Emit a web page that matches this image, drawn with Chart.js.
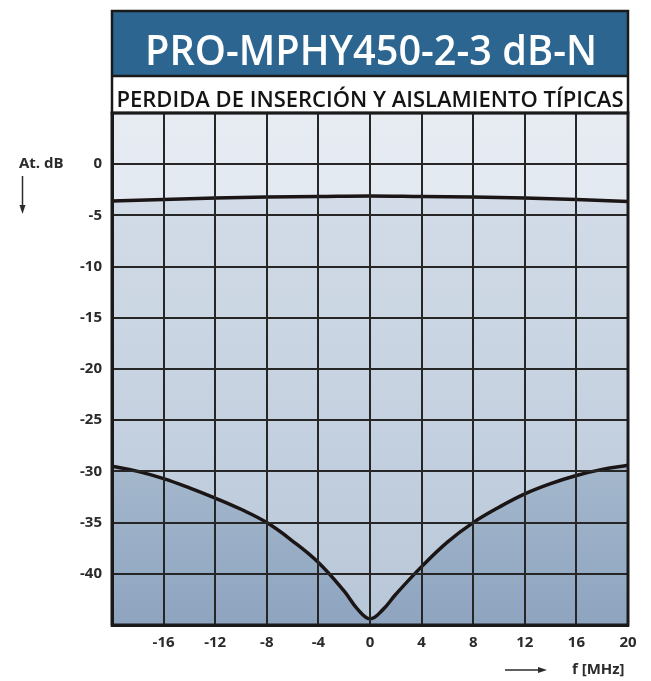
<!DOCTYPE html>
<html>
<head>
<meta charset="utf-8">
<script src="https://cdn.jsdelivr.net/npm/chart.js@4.4.1/dist/chart.umd.min.js"></script>
<style>
  html, body { margin: 0; padding: 0; background: #fff; }
  canvas { display: block; }
</style>
</head>
<body>
<canvas id="chart" width="651" height="681"></canvas>
<script>
// insertion loss (top curve)
const lossFreq = [-20, -16, -12, -8, -4, 0, 4, 8, 12, 16, 20];
const lossDb = [-3.6, -3.45, -3.3, -3.2, -3.15, -3.1, -3.15, -3.2, -3.3, -3.45, -3.65];

// isolation (bottom curve)
const isoFreq = [-20, -18, -16, -14, -12, -10, -8, -6, -4, -2, -1, 0, 1, 2, 4, 6, 8, 10, 12, 14, 16, 18, 20];
const isoDb = [-29.5, -30.0, -30.7, -31.6, -32.6, -33.7, -35.0, -36.8, -38.9, -41.7, -43.4, -44.4, -43.5, -42.0, -39.3, -36.9, -35.0, -33.5, -32.2, -31.2, -30.4, -29.8, -29.4];

const xLabels = [-16, -12, -8, -4, 0, 4, 8, 12, 16, 20];
const yLabels = [0, -5, -10, -15, -20, -25, -30, -35, -40];

const titleText = 'PRO-MPHY450-2-3 dB-N';
const subtitleText = 'PERDIDA DE INSERCIÓN Y AISLAMIENTO TÍPICAS';

function vGrad(chart, stops) {
  const { ctx, chartArea } = chart;
  if (!chartArea) return stops[0][1];
  const g = ctx.createLinearGradient(0, chartArea.top, 0, chartArea.bottom);
  stops.forEach(s => g.addColorStop(s[0], s[1]));
  return g;
}

function arrow(ctx, x1, y1, x2, y2) {
  const a = Math.atan2(y2 - y1, x2 - x1);
  ctx.beginPath();
  ctx.moveTo(x1, y1);
  ctx.lineTo(x2 - 6 * Math.cos(a), y2 - 6 * Math.sin(a));
  ctx.stroke();
  ctx.beginPath();
  ctx.moveTo(x2, y2);
  ctx.lineTo(x2 - 9 * Math.cos(a) + 3 * Math.sin(a), y2 - 9 * Math.sin(a) - 3 * Math.cos(a));
  ctx.lineTo(x2 - 9 * Math.cos(a) - 3 * Math.sin(a), y2 - 9 * Math.sin(a) + 3 * Math.cos(a));
  ctx.closePath();
  ctx.fill();
}

const frame = {
  id: 'frame',
  beforeDraw(chart) {
    const { ctx, chartArea: a } = chart;
    ctx.save();
    ctx.fillStyle = vGrad(chart, [[0, '#e7ecf3'], [1, '#d3dce8']]);
    ctx.fillRect(a.left, a.top, a.right - a.left, a.bottom - a.top);
    ctx.restore();
  },
  afterDraw(chart) {
    const { ctx, chartArea: a } = chart;
    const w = a.right - a.left;
    ctx.save();
    // title boxes
    ctx.fillStyle = '#2c6690';
    ctx.fillRect(a.left, 11, w, 65);
    ctx.fillStyle = '#ffffff';
    ctx.fillRect(a.left, 76, w, a.top - 76);
    ctx.strokeStyle = '#1a1a1a';
    ctx.lineWidth = 2.5;
    ctx.strokeRect(a.left, 11, w, a.top - 11);
    ctx.beginPath();
    ctx.moveTo(a.left, 76);
    ctx.lineTo(a.right, 76);
    ctx.stroke();
    ctx.lineWidth = 3;
    ctx.strokeRect(a.left, a.top, w, a.bottom - a.top);

    ctx.textAlign = 'center';
    ctx.textBaseline = 'alphabetic';
    ctx.fillStyle = '#ffffff';
    ctx.font = '600 42px "Open Sans"';
    ctx.fillText(titleText, (a.left + a.right) / 2 + 1, 65, 452);
    ctx.fillStyle = '#141414';
    ctx.font = '600 22px "Open Sans"';
    ctx.fillText(subtitleText, (a.left + a.right) / 2, 107, 508);

    // axis captions
    ctx.fillStyle = '#2b2b2b';
    ctx.strokeStyle = '#2b2b2b';
    ctx.lineWidth = 1.5;
    ctx.font = 'bold 15px "Open Sans"';
    ctx.textAlign = 'left';
    ctx.fillText('At. dB', 19, 168);
    arrow(ctx, 22.5, 176, 22.5, 214);
    ctx.fillText('f [MHz]', 572, 674);
    arrow(ctx, 505, 670, 547, 670);
    ctx.restore();
  }
};

new Chart(document.getElementById('chart'), {
  type: 'line',
  data: {
    datasets: [
      {
        label: 'Aislamiento',
        data: isoFreq.map((f, i) => ({ x: f, y: isoDb[i] })),
        borderColor: '#1b1515',
        borderWidth: 3.5,
        pointRadius: 0,
        tension: 0.4,
        fill: 'start',
        backgroundColor: ctx => vGrad(ctx.chart, [[0.66, '#a6b9ce'], [1, '#8ea4bf']])
      },
      {
        label: 'Pérdida de inserción',
        data: lossFreq.map((f, i) => ({ x: f, y: lossDb[i] })),
        borderColor: '#1b1515',
        borderWidth: 3.5,
        pointRadius: 0,
        tension: 0.4,
        fill: 'start',
        backgroundColor: ctx => vGrad(ctx.chart, [[0.15, '#d3dce8'], [1, '#b8c7d8']])
      }
    ]
  },
  options: {
    responsive: false,
    animation: false,
    layout: { padding: { left: 0, top: 113, right: 23, bottom: 0 } },
    plugins: { legend: { display: false }, tooltip: { enabled: false } },
    scales: {
      x: {
        type: 'linear',
        min: -20,
        max: 20,
        afterFit: s => { s.height = 56; },
        afterBuildTicks: s => { s.ticks = [-20].concat(xLabels).map(v => ({ value: v })); },
        ticks: {
          padding: 9,
          color: '#2b2b2b',
          font: { family: '"Open Sans"', size: 15, weight: 'bold' },
          maxRotation: 0,
          callback: v => (xLabels.includes(v) ? String(v) : '')
        },
        grid: { color: '#262626', lineWidth: 2, drawTicks: false, z: 1 },
        border: { display: true, color: '#1a1a1a', width: 3, z: 1 }
      },
      y: {
        min: -45,
        max: 5,
        afterFit: s => { s.width = 112; },
        afterBuildTicks: s => { s.ticks = [-45].concat(yLabels.slice().reverse(), [5]).map(v => ({ value: v })); },
        ticks: {
          padding: 10,
          color: '#2b2b2b',
          font: { family: '"Open Sans"', size: 15, weight: 'bold' },
          callback: v => (yLabels.includes(v) ? String(v) : '')
        },
        grid: { color: '#262626', lineWidth: 2, drawTicks: false, z: 1 },
        border: { display: true, color: '#1a1a1a', width: 3, z: 1 }
      }
    }
  },
  plugins: [frame]
});
</script>
</body>
</html>
